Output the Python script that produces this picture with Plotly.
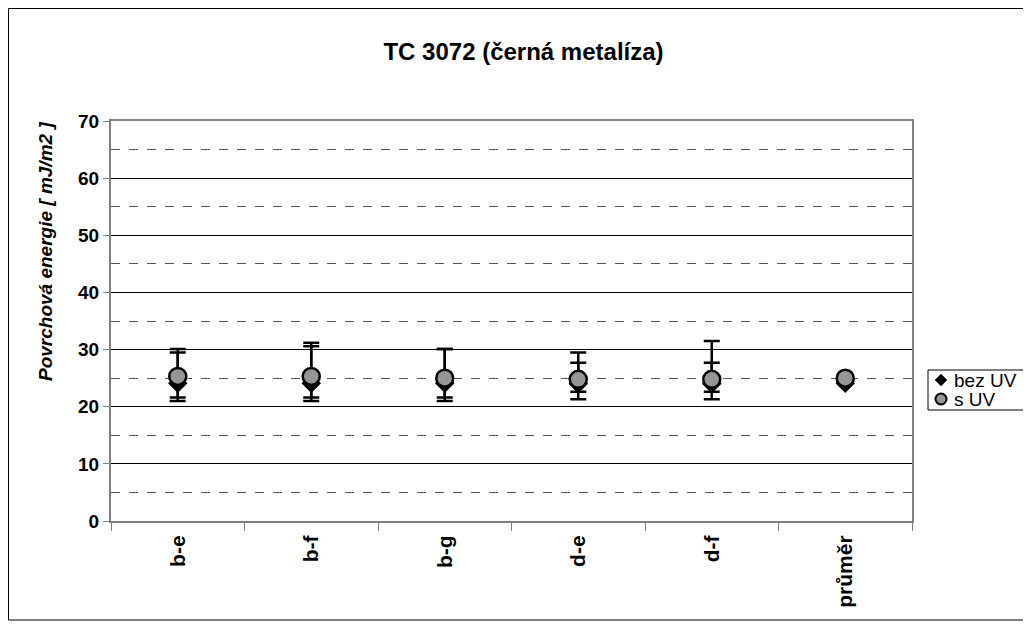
import plotly.graph_objects as go

categories = ["b-e", "b-f", "b-g", "d-e", "d-f", "průměr"]

bez_uv = [24.1, 24.1, 24.1, 24.0, 24.0, 24.1]
bez_uv_plus = [6.0, 7.1, 6.0, 5.5, 7.5, 0]
bez_uv_minus = [3.1, 3.1, 3.1, 2.7, 2.7, 0]

s_uv = [25.3, 25.3, 25.0, 24.8, 24.8, 25.0]
s_uv_plus = [4.2, 5.3, 5.1, 2.9, 2.9, 0]
s_uv_minus = [3.7, 3.7, 3.4, 2.2, 2.2, 0]

y_ticks = [0, 10, 20, 30, 40, 50, 60, 70]

series_names = ["bez UV", "s UV"]

FONT = "Liberation Sans, Arial, sans-serif"
FIG_W, FIG_H = 1031, 628
L, T, W, H = 103, 113, 801, 400


def px(x):
    return (x - L) / W


def py(y):
    return (T + H - y) / H


fig = go.Figure()
fig.add_trace(go.Scatter(
    x=categories, y=bez_uv, mode="markers", name=series_names[0],
    marker=dict(symbol="diamond", size=15, color="black", line=dict(width=0)),
    error_y=dict(type="data", symmetric=False, array=bez_uv_plus, arrayminus=bez_uv_minus,
                 color="black", thickness=2.5, width=8),
))
fig.add_trace(go.Scatter(
    x=categories, y=s_uv, mode="markers", name=series_names[1],
    marker=dict(symbol="circle", size=17, color="#969696", line=dict(width=2.5, color="black")),
    error_y=dict(type="data", symmetric=False, array=s_uv_plus, arrayminus=s_uv_minus,
                 color="black", thickness=2.5, width=8),
))

# legend box (figure pixel coords)
LX0, LX1, LY0, LY1 = 920, 1020, 362, 402
row_y = [372, 391]
mx = 933

shapes = [
    dict(type="rect", xref="paper", yref="paper",
         x0=px(0.5), x1=px(1019), y0=py(612), y1=py(0.5),
         line=dict(color="black", width=1), fillcolor="rgba(0,0,0,0)", layer="below"),
    dict(type="rect", xref="paper", yref="paper",
         x0=px(LX0), x1=px(LX1), y0=py(LY1), y1=py(LY0),
         line=dict(color="black", width=1), fillcolor="white"),
    dict(type="path", xref="paper", yref="paper",
         path=f"M {px(mx - 6)} {py(row_y[0])} L {px(mx)} {py(row_y[0] - 6)} "
              f"L {px(mx + 6)} {py(row_y[0])} L {px(mx)} {py(row_y[0] + 6)} Z",
         line=dict(color="black", width=0.5), fillcolor="black"),
    dict(type="circle", xref="paper", yref="paper",
         x0=px(mx - 5.5), x1=px(mx + 5.5), y0=py(row_y[1] + 5.5), y1=py(row_y[1] - 5.5),
         line=dict(color="black", width=2), fillcolor="#969696"),
]

annotations = [
    dict(text=f"{series_names[i]}", xref="paper", yref="paper",
         x=px(944), y=py(row_y[i]), xanchor="left", yanchor="middle",
         showarrow=False, font=dict(size=19, family=FONT, color="black"))
    for i in range(2)
] + [
    dict(text="<b><i>Povrchová energie [ mJ/m2 ]</i></b>", xref="paper", yref="paper",
         x=px(37), y=py(244), xanchor="center", yanchor="middle", textangle=-90,
         showarrow=False, font=dict(size=19, family=FONT, color="black")),
]

fig.update_layout(
    width=FIG_W, height=FIG_H,
    margin=dict(l=L, r=FIG_W - L - W, t=T, b=FIG_H - T - H),
    paper_bgcolor="white", plot_bgcolor="white",
    font=dict(family=FONT, size=19, color="black"),
    title=dict(text="<b>TC 3072 (černá metalíza)</b>", x=0.5, xanchor="center",
               y=1 - 44 / FIG_H, yanchor="middle", font=dict(size=24, family=FONT)),
    showlegend=False,
    shapes=shapes,
    annotations=annotations,
)

fig.update_xaxes(
    type="category", tickson="boundaries", ticks="outside", ticklen=8, tickcolor="#808080",
    tickangle=-90, tickfont=dict(size=21, family=FONT, weight="bold"),
    ticklabelstandoff=4,
    showgrid=False, showline=True, linecolor="#808080", linewidth=2, mirror=True,
    range=[-0.5, 5.5], automargin=False,
)
fig.update_yaxes(
    range=[0, 70], tickvals=y_ticks, ticktext=[str(v) for v in y_ticks],
    ticks="outside", ticklen=6, tickcolor="#808080",
    tickfont=dict(size=19, family=FONT, weight="bold"),
    showgrid=True, gridcolor="black", gridwidth=1,
    minor=dict(dtick=5, tick0=5, showgrid=True, gridcolor="#555555", griddash="dash", gridwidth=1),
    showline=True, linecolor="#808080", linewidth=2, mirror=True, zeroline=False,
    automargin=False,
)

fig.write_html("out.html")
